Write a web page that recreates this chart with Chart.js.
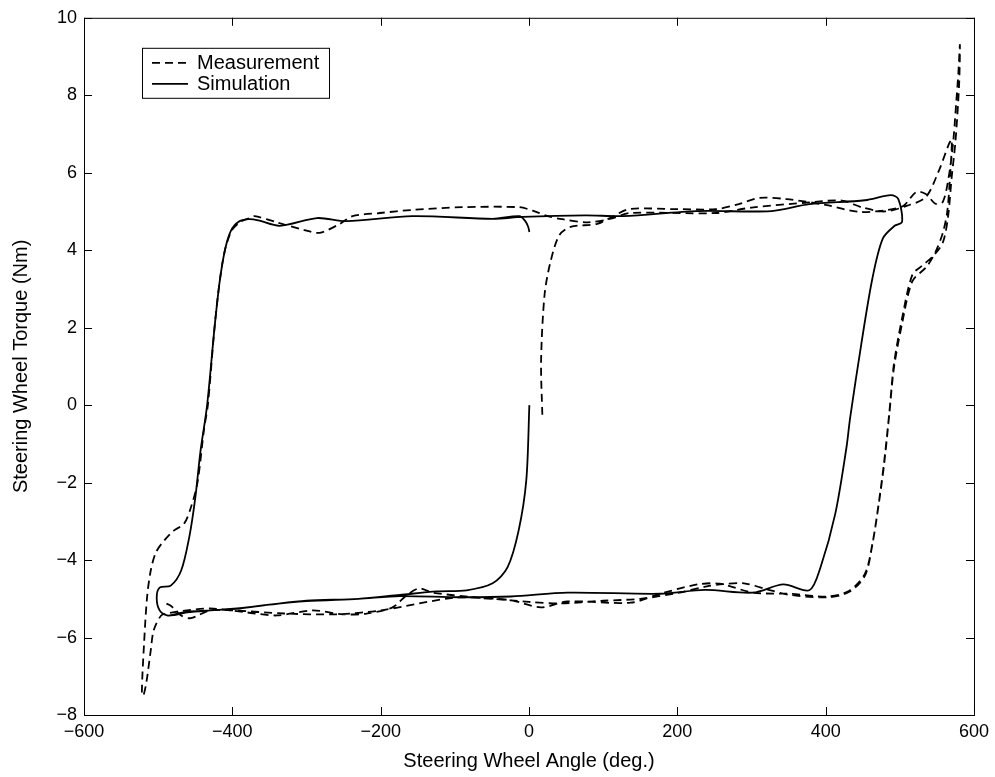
<!DOCTYPE html>
<html>
<head>
<meta charset="utf-8">
<script src="https://cdn.jsdelivr.net/npm/chart.js@4.4.1/dist/chart.umd.min.js"></script>
<style>
  body { margin: 0; background: #fff; }
  canvas { display: block; }
</style>
</head>
<body>
<canvas id="torqueChart" width="995" height="777"></canvas>
<script>
// Axis ticks
const angleTicks = [-600, -400, -200, 0, 200, 400, 600];
const torqueTicks = [-8, -6, -4, -2, 0, 2, 4, 6, 8, 10];

// Simulation: steering wheel angle (deg.) and torque (Nm)
const simAngle = [
  0.5, -3.6, -14, -29, -49, -84, -124, -174, -230, -300, -350, -390, -430, -460, -478, -488,
  -498, -502, -498, -483, -469, -458, -450, -443, -434, -424, -417, -410, -402, -392, -378, -365,
  -336, -286, -246, -157, -49, -9, 76, 127, 227, 327, 378, 453, 488, 498, 503, 493,
  477, 463, 448, 433, 428, 413, 393, 378, 343, 302, 237, 177, 52, -24, -94,
  -174, -230, -300, -350, -390, -430, -461, -478, -488, -498, -502, -498, -483,
  -469, -458, -450, -443, -434, -424, -417, -410, -402, -392, -378, -365, -336, -286, -246, -157, -49, -13, -5, -1, 0.5
];
const simTorque = [
  0, -1.93, -3.24, -4.19, -4.6, -4.78, -4.81, -4.9, -5.0, -5.05, -5.15, -5.24, -5.3, -5.33, -5.4, -5.43,
  -5.3, -4.97, -4.71, -4.66, -4.27, -3.4, -2.4, -1.2, 0, 2, 3.2, 4.0, 4.5, 4.73, 4.8, 4.77,
  4.63, 4.83, 4.75, 4.88, 4.81, 4.86, 4.9, 4.88, 5.01, 5.01, 5.19, 5.29, 5.42, 5.32, 4.73, 4.63,
  4.3, 3.27, 1.57, -0.33, -1.1, -2.8, -4.19, -4.78, -4.63, -4.84, -4.77, -4.87, -4.84, -4.94, -4.96,
  -4.93, -5.0, -5.06, -5.15, -5.25, -5.3, -5.35, -5.42, -5.43, -5.3, -4.97, -4.71, -4.66,
  -4.27, -3.4, -2.4, -1.2, 0, 2, 3.2, 4.0, 4.5, 4.73, 4.8, 4.77, 4.63, 4.83, 4.75, 4.88, 4.81, 4.88, 4.75, 4.6, 4.47
];

// Measurement: steering wheel angle (deg.) and torque (Nm)
const measAngle = [
  18, 16.3, 21, 29, 41, 56, 92, 112, 135, 200, 252, 283, 310, 347, 400, 445, 484, 505, 522, 535,
  548, 558, 566, 572, 576, 579, 581,
  580, 575, 570, 565, 558, 545, 530, 517, 503, 492, 486, 479, 472, 463, 453, 432, 403, 352, 302,
  257, 227, 177, 137, 52, 16, -24, -74, -130, -148, -165, -184, -219, -251, -292, -340, -381,
  -430, -470, -488, -496, -506, -510, -516, -520, -522, -519, -515, -510, -503, -492, -479,
  -465, -456, -447, -438, -433, -424, -417, -410, -401, -390, -378, -370, -340, -303, -282, -255,
  -238, -201, -157, -90, -13, 5, 25, 45, 80, 112, 135, 252, 300, 382, 422, 450, 480, 510,
  535, 553, 566, 570, 568, 564, 558, 548, 536, 517, 503, 492, 486, 479, 472, 463, 453, 432,
  403, 352, 320, 290, 262, 240, 200, 150, 100, 40, 0, -50, -100, -200, -260, -330, -400,
  -430, -456, -469, -483, -492
];
const measTorque = [
  -0.25, 1.13, 2.85, 3.7, 4.39, 4.6, 4.68, 4.86, 5.06, 5.06, 5.06, 5.19, 5.35, 5.32, 5.17, 4.99, 5.04, 5.15, 5.5, 5.45,
  5.2, 5.25, 5.9, 6.8, 7.8, 8.6, 9.3,
  8.3, 6.8, 5.9, 4.86, 4.2, 3.85, 3.6, 3.37, 2.24, 1.05, -0.16, -1.44, -2.47, -3.58, -4.35, -4.79, -4.94, -4.87, -4.84,
  -4.61, -4.63, -4.87, -5.1, -5.07, -5.22, -5.04, -4.96, -4.84, -4.73, -4.91, -5.22, -5.38, -5.4, -5.3, -5.43, -5.35,
  -5.25, -5.32, -5.38, -5.43, -5.81, -6.33, -7.17, -7.5, -7.43, -6.15, -4.97, -4.27, -3.8, -3.5, -3.24,
  -3.06, -2.65, -2.0, -0.6, 0, 2, 3.2, 4.0, 4.5, 4.72, 4.82, 4.88, 4.72, 4.52, 4.45, 4.68,
  4.88, 4.96, 5.04, 5.11, 5.11, 5.02, 4.88, 4.8, 4.72, 4.82, 4.96, 4.96, 5.1, 5.24, 5.28, 5.1, 5.0, 5.15,
  5.37, 6.07, 6.73, 6.85, 6.0, 5.0, 4.45, 3.95, 3.57, 3.2, 2.1, 0.95, -0.2, -1.5, -2.5, -3.6, -4.4, -4.82,
  -4.96, -4.9, -4.75, -4.6, -4.62, -4.68, -4.85, -5.0, -5.05, -5.12, -5.08, -5.0, -4.97, -5.3, -5.4, -5.38, -5.3,
  -5.3, -5.5, -5.43, -5.18, -5.1
];

const seriesNames = ['Measurement', 'Simulation'];

function toPoints(xs, ys) {
    return xs.map((x, i) => ({ x: x, y: ys[i] }));
}

const minusSign = v => String(v).replace('-', '\u2212');

// MATLAB style box with inward ticks
const frameTicks = {
    id: 'frameTicks',
    afterDraw(chart) {
        const { ctx, chartArea: a, scales } = chart;
        const len = 8;
        ctx.save();
        ctx.strokeStyle = '#000';
        ctx.lineWidth = 1;
        ctx.setLineDash([]);
        ctx.strokeRect(a.left + 0.5, a.top + 0.5, a.right - a.left, a.bottom - a.top);
        ctx.beginPath();
        angleTicks.forEach(v => {
            const px = Math.round(scales.x.getPixelForValue(v)) + 0.5;
            ctx.moveTo(px, a.bottom); ctx.lineTo(px, a.bottom - len);
            ctx.moveTo(px, a.top); ctx.lineTo(px, a.top + len);
        });
        torqueTicks.forEach(v => {
            const py = Math.round(scales.y.getPixelForValue(v)) + 0.5;
            ctx.moveTo(a.left, py); ctx.lineTo(a.left + len, py);
            ctx.moveTo(a.right, py); ctx.lineTo(a.right - len, py);
        });
        ctx.stroke();
        ctx.restore();
    }
};

// legend box in the upper left corner of the plot
const boxLegend = {
    id: 'boxLegend',
    afterDraw(chart) {
        const { ctx, chartArea: a } = chart;
        const x0 = a.left + 58, y0 = a.top + 30, w = 187, h = 50;
        ctx.save();
        ctx.fillStyle = '#fff';
        ctx.fillRect(x0, y0, w, h);
        ctx.strokeStyle = '#000';
        ctx.lineWidth = 1;
        ctx.strokeRect(x0 + 0.5, y0 + 0.5, w, h);
        ctx.font = '20px "Liberation Sans", Arial, sans-serif';
        ctx.textBaseline = 'middle';
        ctx.fillStyle = '#000';
        chart.data.datasets.forEach((ds, i) => {
            const y = y0 + 15 + i * 21;
            ctx.lineWidth = 1.8;
            ctx.setLineDash(ds.borderDash || []);
            ctx.beginPath();
            ctx.moveTo(x0 + 10, y);
            ctx.lineTo(x0 + 46, y);
            ctx.stroke();
            ctx.setLineDash([]);
            ctx.fillText(ds.label, x0 + 55, y + 1);
        });
        ctx.restore();
    }
};

const tickFont = { family: '"Liberation Sans", Arial, sans-serif', size: 18 };
const titleFont = { family: '"Liberation Sans", Arial, sans-serif', size: 20 };

new Chart(document.getElementById('torqueChart'), {
    type: 'scatter',
    data: {
        datasets: [
            {
                label: seriesNames[0],
                data: toPoints(measAngle, measTorque),
                showLine: true,
                borderColor: '#000',
                borderWidth: 1.8,
                borderDash: [8, 5],
                pointRadius: 0,
                tension: 0.3
            },
            {
                label: seriesNames[1],
                data: toPoints(simAngle, simTorque),
                showLine: true,
                borderColor: '#000',
                borderWidth: 1.8,
                pointRadius: 0,
                tension: 0.3
            }
        ]
    },
    options: {
        responsive: false,
        devicePixelRatio: 1,
        animation: false,
        layout: { padding: { left: 0, right: 20, top: 15, bottom: 0 }, autoPadding: false },
        plugins: {
            legend: { display: false },
            tooltip: { enabled: false }
        },
        scales: {
            x: {
                type: 'linear',
                min: -600,
                max: 600,
                afterBuildTicks: scale => { scale.ticks = angleTicks.map(v => ({ value: v })); },
                afterFit: scale => { scale.height = 62; },
                grid: { drawOnChartArea: false, drawTicks: false },
                border: { display: false },
                ticks: { color: '#000', font: tickFont, padding: 6, maxRotation: 0, callback: minusSign },
                title: { display: true, text: 'Steering Wheel Angle (deg.)', color: '#000', font: titleFont, padding: { top: 0, bottom: 4 } }
            },
            y: {
                type: 'linear',
                min: -8,
                max: 10,
                afterBuildTicks: scale => { scale.ticks = torqueTicks.map(v => ({ value: v })); },
                afterFit: scale => { scale.width = 84; },
                grid: { drawOnChartArea: false, drawTicks: false },
                border: { display: false },
                ticks: { color: '#000', font: tickFont, padding: 7, callback: minusSign },
                title: { display: true, text: 'Steering Wheel Torque (Nm)', color: '#000', font: titleFont, padding: { top: 9, bottom: 0 } }
            }
        }
    },
    plugins: [frameTicks, boxLegend]
});
</script>
</body>
</html>
